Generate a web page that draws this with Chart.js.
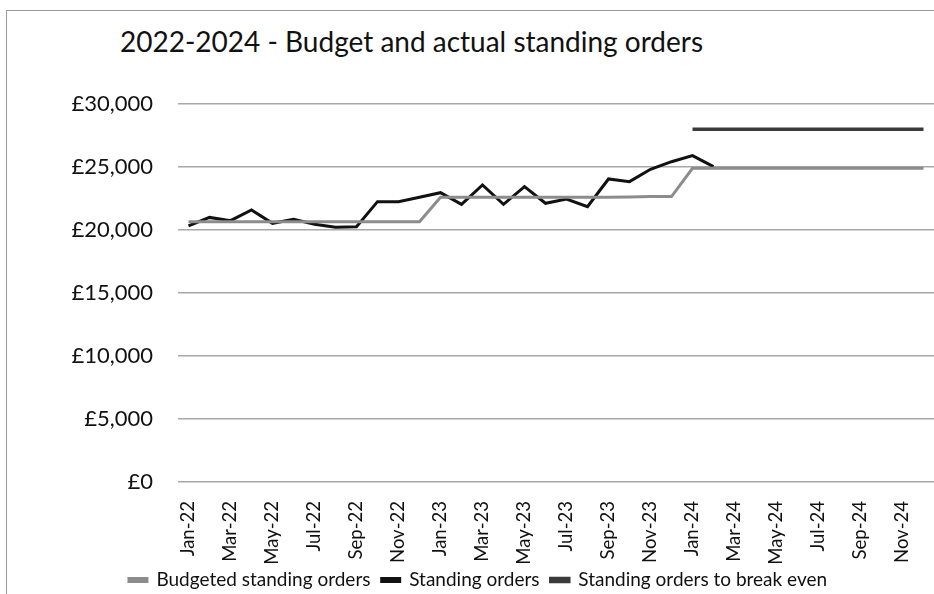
<!DOCTYPE html>
<html>
<head>
<meta charset="utf-8">
<script src="https://cdn.jsdelivr.net/npm/chart.js@4.4.0/dist/chart.umd.min.js"></script>
<style>
  html, body { margin:0; padding:0; background:#fff; }
  #wrap { position:relative; width:934px; height:594px; overflow:hidden; }
  #frame { position:absolute; left:6px; top:10px; width:940px; height:600px; border-left:1.5px solid #9a9a9a; border-top:1.5px solid #9a9a9a; }
  #title { position:absolute; left:120px; top:24px; font-family:Lato, sans-serif; font-size:28px; color:#111; white-space:nowrap; }
  canvas { position:absolute; left:0; top:0; }
</style>
</head>
<body>
<div id="wrap">
  <div id="frame"></div>
  <div id="title">2022-2024 - Budget and actual standing orders</div>
  <canvas id="soChart" width="934" height="594"></canvas>
</div>
<script>
  // months Jan-22 .. Dec-24
  const months = ['Jan-22','Feb-22','Mar-22','Apr-22','May-22','Jun-22','Jul-22','Aug-22','Sep-22','Oct-22','Nov-22','Dec-22',
                  'Jan-23','Feb-23','Mar-23','Apr-23','May-23','Jun-23','Jul-23','Aug-23','Sep-23','Oct-23','Nov-23','Dec-23',
                  'Jan-24','Feb-24','Mar-24','Apr-24','May-24','Jun-24','Jul-24','Aug-24','Sep-24','Oct-24','Nov-24','Dec-24'];

  const budgeted = [20650,20650,20650,20650,20650,20650,20650,20650,20650,20650,20650,20650,
                    22600,22600,22600,22600,22600,22600,22600,22600,22600,22620,22650,22650,
                    24900,24900,24900,24900,24900,24900,24900,24900,24900,24900,24900,24900];

  const actual = [20320,21000,20740,21590,20530,20850,20450,20210,20260,22250,22250,22600,
                  22960,22040,23570,22040,23440,22120,22460,21850,24050,23840,24820,25420,
                  25900,25030,null,null,null,null,null,null,null,null,null,null];

  const breakEven = [null,null,null,null,null,null,null,null,null,null,null,null,
                     null,null,null,null,null,null,null,null,null,null,null,null,
                     28000,28000,28000,28000,28000,28000,28000,28000,28000,28000,28000,28000];

  const yTicks = { min: 0, max: 30000, step: 5000 };

  const ctx = document.getElementById('soChart').getContext('2d');
  new Chart(ctx, {
    type: 'line',
    data: {
      labels: months,
      datasets: [
        { label: 'Budgeted standing orders', data: budgeted, borderColor: '#8c8c8c', backgroundColor: '#8c8c8c', borderWidth: 3, pointRadius: 0, tension: 0 },
        { label: 'Standing orders', data: actual, borderColor: '#111111', backgroundColor: '#111111', borderWidth: 3, pointRadius: 0, tension: 0 },
        { label: 'Standing orders to break even', data: breakEven, borderColor: '#3a3a3a', backgroundColor: '#3a3a3a', borderWidth: 3.5, pointRadius: 0, tension: 0 }
      ]
    },
    options: {
      responsive: false,
      animation: false,
      layout: { padding: { top: 104, right: 0, left: 22, bottom: -5.5 } },
      plugins: {
        title: { display: false },
        tooltip: { enabled: false },
        legend: {
          position: 'bottom',
          labels: {
            font: { family: 'Lato', size: 19 }, color: '#111', boxWidth: 18, boxHeight: 3, padding: 1.5,
            generateLabels: function(chart) {
              const items = Chart.defaults.plugins.legend.labels.generateLabels(chart);
              items.forEach(function(it, i) { if (i < items.length - 1) it.text += '  '; });
              return items;
            }
          }
        }
      },
      scales: {
        x: {
          offset: true,
          afterFit: function(scale) { scale.height = 87; scale.paddingRight = 0; scale.paddingLeft = 0; },
          grid: { display: false },
          border: { display: false },
          ticks: {
            autoSkip: false, maxRotation: 90, minRotation: 90, padding: 11,
            font: { family: 'Lato', size: 18.5 }, color: '#111',
            callback: function(v, i) { return i % 2 === 0 ? months[i] : ''; }
          }
        },
        y: {
          min: yTicks.min, max: yTicks.max,
          afterFit: function(scale) { scale.width = 156; },
          grid: { color: '#a8a8a8', lineWidth: 1.5, drawTicks: false },
          border: { display: false },
          ticks: {
            stepSize: yTicks.step, padding: 25,
            font: { family: 'Lato', size: 22 }, color: '#111',
            callback: function(v) { return '£' + v.toLocaleString('en-GB'); }
          }
        }
      }
    }
  });
</script>
</body>
</html>
